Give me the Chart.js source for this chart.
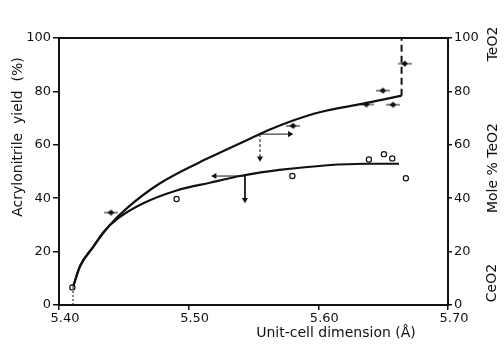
<!DOCTYPE html>
<html>
<head>
<meta charset="utf-8">
<script src="https://cdn.jsdelivr.net/npm/chart.js@4"></script>
<style>
  body { margin: 0; background: #fff; }
  #wrap { width: 504px; height: 347px; }
</style>
</head>
<body>
<div id="wrap"><canvas id="chart" width="504" height="347"></canvas></div>
<script>
// Values
// upper curve: Mole % TeO2 (right axis) vs unit-cell dimension
const upperX = [5.411, 5.4162, 5.4264, 5.4393, 5.4522, 5.4779, 5.5164, 5.555, 5.5627, 5.58, 5.601, 5.6346, 5.6642];
const upperY = [7, 14.5, 21.8, 30, 36.2, 45.6, 55.3, 64, 65.7, 69, 72.2, 75.4, 78.4];
// dashed jump to 100 % TeO2
const jumpX = [5.6642, 5.6642];
const jumpY = [78.4, 100];

// lower curve: acrylonitrile yield (left axis)
const lowerX = [5.411, 5.4162, 5.4264, 5.4342, 5.4457, 5.465, 5.4907, 5.5164, 5.5396, 5.570, 5.6355, 5.6622];
const lowerY = [7, 14.5, 21.8, 27.3, 32.5, 38.1, 42.9, 45.8, 48.3, 50.6, 52.9, 52.9];

// open circles (yield measurements)
const yieldX = [5.4103, 5.4907, 5.580, 5.639, 5.6506, 5.657, 5.6675];
const yieldY = [6.6, 39.7, 48.3, 54.5, 56.5, 54.9, 47.5];

// small arrow markers (composition points)
const markX = [5.4403, 5.5807, 5.6372, 5.650, 5.6578, 5.6668];
const markY = [34.6, 67.1, 75.1, 80.3, 75.0, 90.4];

// guide arrows
const upArrowH = { x: [5.555, 5.578], y: [64, 64] };
const upArrowV = { x: [5.555, 5.555], y: [64, 55] };
const loArrowH = { x: [5.5434, 5.520], y: [48.3, 48.3] };
const loArrowV = { x: [5.5434, 5.5434], y: [48.3, 39.4] };
const dropX = [5.4108, 5.4108];
const dropY = [0, 7];

const xTicks = [5.40, 5.50, 5.60, 5.70];
const yTicks = [0, 20, 40, 60, 80, 100];

const ink = '#111';
const tickFont = { family: 'DejaVu Sans', size: 13 };
const titleFont = '14px "DejaVu Sans"';

const pts = (xs, ys) => xs.map((x, i) => ({ x: x, y: ys[i] }));

// diamond with a short shaft, like the little arrows in the plot
const markImg = document.createElement('canvas');
markImg.width = 14; markImg.height = 8;
(function () {
    const c = markImg.getContext('2d');
    c.fillStyle = ink; c.strokeStyle = ink; c.lineWidth = 1;
    c.beginPath(); c.moveTo(0, 4); c.lineTo(14, 4); c.stroke();
    c.beginPath(); c.moveTo(3, 4); c.lineTo(7, 1); c.lineTo(10, 4); c.lineTo(7, 7); c.closePath(); c.fill();
})();

function arrow(data, rot, dash) {
    return {
        type: 'line', data: data, borderColor: ink, borderWidth: 1, borderDash: dash || [],
        pointRadius: [0, 3.5], pointStyle: 'triangle', rotation: rot,
        pointBackgroundColor: ink, pointBorderWidth: 0
    };
}

const framePlugin = {
    id: 'frame',
    afterDraw(chart) {
        const ctx = chart.ctx;
        const a = chart.chartArea;
        ctx.save();
        ctx.strokeStyle = ink;
        ctx.lineWidth = 2;
        ctx.strokeRect(a.left, a.top, a.right - a.left, a.bottom - a.top);
        ctx.fillStyle = ink;
        ctx.font = titleFont;
        ctx.textAlign = 'center';
        ctx.textBaseline = 'middle';
        ctx.fillText('Unit-cell dimension (Å)', 336, 333);
        const vtext = (t, x, y) => {
            ctx.save();
            ctx.translate(x, y);
            ctx.rotate(-Math.PI / 2);
            ctx.fillText(t, 0, 0);
            ctx.restore();
        };
        vtext('Acrylonitrile  yield  (%)', 18, 137);
        vtext('Mole % TeO2', 493, 168);
        vtext('TeO2', 493, 44);
        vtext('CeO2', 492, 283);
        ctx.restore();
    }
};

new Chart(document.getElementById('chart'), {
    type: 'line',
    data: {
        datasets: [
            { data: pts(upperX, upperY), yAxisID: 'y2', borderColor: ink, borderWidth: 2.2, pointRadius: 0, cubicInterpolationMode: 'monotone' },
            { data: pts(jumpX, jumpY), yAxisID: 'y2', borderColor: ink, borderWidth: 2, borderDash: [7, 4], pointRadius: 0 },
            { data: pts(lowerX, lowerY), borderColor: ink, borderWidth: 2.2, pointRadius: 0, cubicInterpolationMode: 'monotone' },
            { data: pts(dropX, dropY), borderColor: ink, borderWidth: 1, borderDash: [2, 2], pointRadius: 0 },
            arrow(pts(upArrowH.x, upArrowH.y), 90),
            arrow(pts(upArrowV.x, upArrowV.y), 180, [3, 2]),
            arrow(pts(loArrowH.x, loArrowH.y), 270),
            arrow(pts(loArrowV.x, loArrowV.y), 180),
            { type: 'scatter', data: pts(yieldX, yieldY), pointStyle: 'circle', pointRadius: 2.6, borderWidth: 1.2, borderColor: ink, backgroundColor: '#fff' },
            { type: 'scatter', data: pts(markX, markY), yAxisID: 'y2', pointStyle: markImg }
        ]
    },
    options: {
        responsive: false,
        animation: false,
        layout: { padding: { top: 38, left: 0, right: 0, bottom: 0 } },
        plugins: { legend: { display: false }, tooltip: { enabled: false } },
        scales: {
            x: {
                type: 'linear', min: 5.40, max: 5.70,
                afterBuildTicks: s => { s.ticks = xTicks.map(v => ({ value: v })); },
                afterFit: s => { s.height = 42; },
                ticks: { callback: v => v.toFixed(2), color: ink, font: tickFont, labelOffset: 6, padding: 1, maxRotation: 0 },
                grid: { drawOnChartArea: false, tickLength: 5, color: ink, lineWidth: 1.5 },
                border: { color: ink, width: 2 }
            },
            y: {
                min: 0, max: 100,
                afterBuildTicks: s => { s.ticks = yTicks.map(v => ({ value: v })); },
                afterFit: s => { s.width = 59; },
                ticks: { color: ink, font: tickFont, padding: 2 },
                grid: { drawOnChartArea: false, tickLength: 6, color: ink, lineWidth: 1.5 },
                border: { color: ink, width: 2 }
            },
            y2: {
                position: 'right', min: 0, max: 100,
                afterBuildTicks: s => { s.ticks = yTicks.map(v => ({ value: v })); },
                afterFit: s => { s.width = 56; },
                ticks: { color: ink, font: tickFont, padding: 2 },
                grid: { drawOnChartArea: false, tickLength: 4, color: ink, lineWidth: 1.5 },
                border: { color: ink, width: 2 }
            }
        }
    },
    plugins: [framePlugin]
});
</script>
</body>
</html>
